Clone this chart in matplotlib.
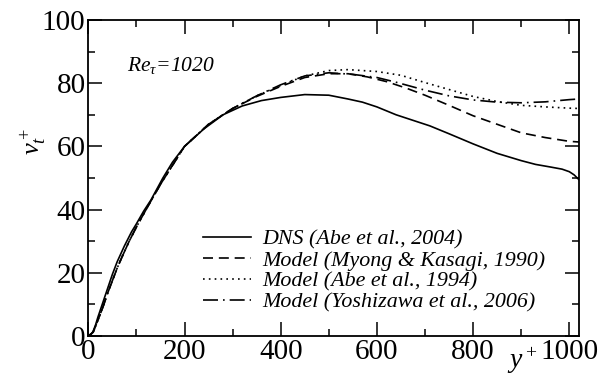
import numpy as np
import matplotlib
matplotlib.use("Agg")
import matplotlib.pyplot as plt

plt.rcParams['font.family'] = 'Liberation Serif'
plt.rcParams['mathtext.fontset'] = 'custom'
plt.rcParams['mathtext.rm'] = 'Liberation Serif'
plt.rcParams['mathtext.it'] = 'Liberation Serif:italic'
plt.rcParams['mathtext.bf'] = 'Liberation Serif:bold'

# DNS (Abe et al., 2004)
dns_x = [0, 5, 10, 15, 20, 30, 40, 50, 60, 75, 90, 100, 115, 130, 155, 175, 200, 240, 280, 320,
         360, 400, 450, 500, 540, 570, 600, 640, 680, 710, 750, 800, 850, 900, 930, 960, 985, 1000, 1010, 1020]
dns_y = [0, 0.3, 1.5, 3.5, 6, 10.5, 15, 19.5, 23.5, 28.5, 33, 35.5, 39.5, 43, 50, 55, 60, 65.5, 70, 72.8,
         74.5, 75.5, 76.4, 76.2, 75, 74, 72.5, 70, 68, 66.5, 64, 60.8, 57.8, 55.5, 54.3, 53.5, 52.8, 52, 51, 49.5]

# Model (Myong & Kasagi, 1990)
mk_x = [0, 10, 20, 30, 40, 50, 60, 70, 85, 100, 120, 150, 200, 250, 300, 350, 400, 450, 500, 540,
        580, 620, 660, 700, 750, 800, 850, 900, 950, 1000, 1020]
mk_y = [0, 1.2, 5, 9, 13.5, 17.5, 21.5, 25, 30, 34.5, 40, 48, 60, 67, 72, 75.8, 79, 81.8, 83, 83,
        82, 80.5, 78.5, 76.2, 73, 69.7, 67, 64.3, 62.8, 61.6, 61.4]

# Model (Abe et al., 1994)
ab_x = [0, 10, 20, 30, 40, 50, 60, 70, 85, 100, 120, 150, 200, 250, 300, 350, 400, 450, 500, 540,
        600, 650, 700, 750, 800, 850, 900, 950, 1000, 1020]
ab_y = [0, 1.2, 5, 9, 13.5, 17.5, 21.5, 25, 30, 34.5, 40, 48, 60, 67, 72, 76, 79.3, 82.3, 84, 84.3,
        83.7, 82.5, 80.2, 78, 75.8, 74.2, 73, 72.5, 72.1, 72]

# Model (Yoshizawa et al., 2006)
yo_x = [0, 10, 20, 30, 40, 50, 60, 70, 85, 100, 120, 150, 200, 250, 300, 350, 400, 450, 500, 550,
        600, 640, 700, 750, 800, 850, 900, 950, 1000, 1020]
yo_y = [0, 1.2, 5, 9, 13.5, 17.5, 21.5, 25, 30, 34.5, 40, 48, 60, 67, 72, 76, 79.5, 82.3, 83.3, 82.8,
        81.8, 80.3, 77.8, 76, 74.7, 74, 73.8, 74.1, 74.8, 75]

labels = ["DNS (Abe et al., 2004)",
          "Model (Myong & Kasagi, 1990)",
          "Model (Abe et al., 1994)",
          "Model (Yoshizawa et al., 2006)"]

fig = plt.figure(figsize=(6.1, 3.76), dpi=100)
ax = fig.add_axes([0.1448, 0.1064, 0.8042, 0.8404])

lw = 1.2
ax.plot(dns_x, dns_y, color='black', lw=lw, ls='-', label=labels[0])
ax.plot(mk_x, mk_y, color='black', lw=lw, ls=(0, (6, 3.5)), label=labels[1])
ax.plot(ab_x, ab_y, color='black', lw=lw, ls=(0, (1, 2.5)), label=labels[2])
ax.plot(yo_x, yo_y, color='black', lw=lw, ls=(0, (9, 3, 1, 3)), label=labels[3])

ax.set_xlim(0, 1020)
ax.set_ylim(0, 100)
ax.set_xticks([0, 200, 400, 600, 800, 1000])
ax.set_yticks([0, 20, 40, 60, 80, 100])
ax.set_xticks(np.arange(100, 1001, 200), minor=True)
ax.set_yticks(np.arange(10, 100, 20), minor=True)
ax.tick_params(which='both', direction='in', top=True, right=True, width=1.1)
ax.tick_params(which='major', length=10, labelsize=21, pad=2)
ax.tick_params(which='minor', length=5)
for s in ax.spines.values():
    s.set_linewidth(1.3)

ax.text(0.078, 0.838, r"$Re_\tau$=1020", transform=ax.transAxes, fontsize=15.5, style='italic')
ax.text(-0.11, 0.615, r"$\nu_t^+$", transform=ax.transAxes, fontsize=19, rotation=90,
        va='center', ha='center')
ax.text(0.885, -0.03, r"$y^+$", transform=ax.transAxes, fontsize=20, va='top', ha='center')

ax.legend(loc='upper left', bbox_to_anchor=(0.234, 0.337), frameon=False,
          prop={'size': 15.8, 'style': 'italic'},
          handlelength=2.2, handletextpad=0.5, labelspacing=0.025,
          borderpad=0, borderaxespad=0)

fig.savefig('out.png', dpi=100)
